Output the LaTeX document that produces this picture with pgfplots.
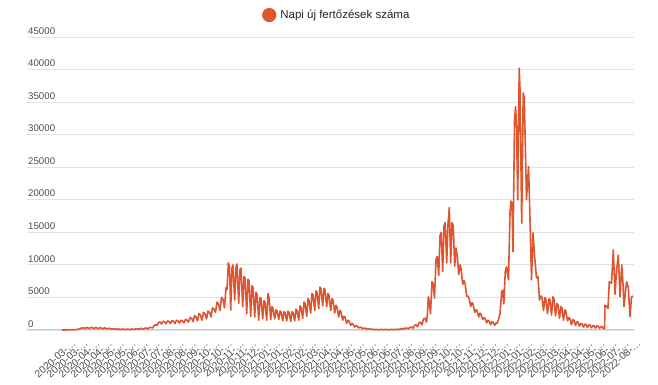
\documentclass[border=0pt]{standalone}
\usepackage{fontspec}
\setmainfont{Liberation Sans}
\usepackage{pgfplots}
\pgfplotsset{compat=1.18}
\definecolor{lineC}{HTML}{DE5530}
\definecolor{gridC}{HTML}{E3E3E3}
\definecolor{baseC}{HTML}{C6C6C6}
\definecolor{txtC}{HTML}{4D4D4D}
\definecolor{legC}{HTML}{222222}
\pgfplotstableread{
x y
62 0
65 5
68 10
71 20
74 40
77 80
79 150
80.5 250
82 300
83.5 350
85 220
86.5 400
88 320
89.5 230
91 420
92.5 330
94 220
95.5 400
97 300
98.5 200
100 380
101.5 280
103 180
104.5 330
106 250
107.5 170
109 280
110.5 200
112 120
113.5 210
115 160
116.5 90
118 170
119.5 130
121 70
122.5 150
124 120
125.5 60
127 140
128.5 110
130 60
131.5 150
133 130
134.5 80
136 190
137.5 170
139 110
140.5 240
142 220
143.5 140
145 300
146.5 280
148 180
149.5 380
151 400
152.5 300
154 650
155.5 800
157 700
158.5 1150
160 1250
161.5 900
163 1350
164.5 1250
166 950
167.5 1400
169 1300
170.5 1000
172 1450
173.5 1350
175 1000
176.5 1500
178 1400
179.5 1050
181 1500
182.5 1400
184 1100
185.5 1650
187 1500
188.5 1200
190 1900
191.5 1800
193 1300
194.5 2200
196 2000
197.5 1400
199 2500
200.5 2300
202 1500
203.5 2700
205 2500
206.5 1700
208 2900
209.5 2700
211 2000
212.5 3400
214 3200
215.5 2700
217 4300
218.5 4000
220 3000
221.5 5000
223 4700
224.5 3400
226 6500
227 6200
228.3 10300
229.5 9800
230.7 3070
232 9500
232.9 10000
234.7 4600
236 9600
236.9 10150
238.7 4100
240 9300
241 9500
242.7 3600
244 8200
245 8000
246.7 2500
248 7800
249 7600
250.7 2100
252 6800
253 6500
254.7 2000
256 5800
257 5500
258.7 1500
260 5000
261 4800
262.7 1700
264 4500
265 4300
266.7 1500
268 5600
269 5000
270.7 1600
272 3600
273 3300
274.7 1700
276 3100
277 3000
278.7 1600
280 2900
281 2800
282.7 1400
284 2800
285 2700
286.7 1400
288 2900
289 2700
290.7 1300
292 2800
293 2700
294.7 1400
296 3200
297 3000
298.7 1500
300 3700
301 3500
302.7 1800
304 4300
305 4100
306.7 2100
308 4800
309 4600
310.7 2600
312 5600
313 5400
314.7 3000
316 6000
317 5800
318.7 3300
320 6600
321 6300
322.7 3700
324 6400
325 6200
326.7 3600
328 5600
329 5300
330.7 3000
332 4800
333 4600
334.7 2600
336 3800
337 3500
338.7 2000
340 3000
341 2800
342.7 1500
344 2100
345 2000
346.7 1000
348 1500
349 1400
350.7 700
352 1000
353 900
354.7 450
356 650
357 600
358.7 300
360 450
361 400
362.7 200
364 300
365 280
366.7 150
368 200
369 180
370.7 90
372 120
373 110
374.7 60
376 90
377 80
378.7 40
380 70
382 80
383.5 40
385 70
387 80
388.5 40
390 80
392 90
393.5 50
395 100
397 110
398.5 60
400 160
402 200
403.5 120
405 270
407 300
408.5 180
410 400
411.5 450
413 250
414.5 700
416 800
417.5 500
419 1100
420.5 1200
422 800
423.5 1700
425 1800
426.5 1200
427.5 2600
428.3 5100
429.3 4400
430.5 2500
432 7400
433 7200
434.5 4900
436 10800
437.2 11300
438.7 8400
440 14500
441.2 15000
442.7 9000
444 16000
445.2 16500
446.7 10300
448 16300
449.3 18800
450.7 10300
452 16500
453.2 16000
454.7 9800
456 12600
457.2 11500
458.7 8500
460 10000
461 9500
462.7 7000
464 7600
465 7200
466.7 5200
468 5200
469 4900
470.7 3600
472 4200
473 4000
474.7 2700
476 3100
477 3000
478.7 2000
480 2600
481 2400
482.7 1600
484 1900
485 1800
486.7 1100
488 1500
489 1400
490.7 800
492 1300
493 1200
494.7 700
496 1100
497 1000
498.3 1500
500 2500
501.7 5900
502.7 6100
503.8 4000
505.3 9000
506.5 9700
507.7 8500
508.5 7700
510 18000
511 19800
512 19500
513 12000
514.5 32000
515.5 34300
516.5 31500
517.7 20000
519.2 40200
520 37000
521.7 16400
523.2 36400
524.2 35800
526.5 20000
528.5 25100
529.5 20000
531.5 7700
533 14900
534.5 11500
536.5 8000
538 8200
539.5 4600
541 5200
542 5000
543.5 3000
545 5000
546 4600
547.5 2500
549 4800
550 4600
551.5 2300
553 5100
554 4700
555.5 2200
557 4100
558 3800
559.5 1800
561 3600
562 3300
563.5 1500
565 3100
566 2800
567.5 1400
569 1900
570 1700
571.5 800
573 1600
574 1500
575.5 700
577 1300
578 1200
579.5 600
581 1000
582 950
583.5 450
585 900
586 850
587.5 400
589 800
590 750
591.5 350
593 700
594 650
595.5 300
597 650
598 600
599.5 250
601 550
602 500
603.5 200
604.5 250
605 3800
606.5 3700
608 3300
609.3 7400
611.5 7200
613.3 12300
615 5500
616.5 9000
618.3 11500
620 5100
621.7 10000
623 7000
624 3600
625.5 6000
626.7 7400
628.3 6500
630 2050
631.5 5100
633 5200
}\cases
\begin{document}
\begin{tikzpicture}
\useasboundingbox (0pt,0pt) rectangle (658pt,385pt);
\begin{axis}[
  at={(27pt,55pt)}, anchor=south west,
  width=607pt, height=293pt, scale only axis,
  xmin=27, xmax=634, ymin=0, ymax=45000,
  clip=false,
  scaled y ticks=false, scaled x ticks=false,
  axis line style={draw=none},
  tick style={draw=none},
  major tick length=0pt,
  ymajorgrids,
  major grid style={gridC, line width=0.9pt},
  ytick={0,5000,...,45000},
  yticklabels={0,5000,10000,15000,20000,25000,30000,35000,40000,45000},
  yticklabel style={anchor=south west, inner sep=1pt, yshift=1.5pt, font=\fontsize{9.7}{11}\selectfont, text=txtC},
  extra y ticks={0},
  extra y tick labels={},
  extra y tick style={major grid style={baseC, line width=1pt}},
  xtick={68,80.02,...,634},
  xticklabels={2020-03-…,2020-03-…,2020-04-…,2020-04-…,2020-05-…,2020-05-…,2020-06-…,2020-07-…,2020-07-…,2020-08-…,2020-08-…,2020-09-…,2020-10-…,2020-10-…,2020-11-…,2020-11-…,2020-12-…,2021-01-…,2021-01-…,2021-02-…,2021-02-…,2021-03-…,2021-04-…,2021-04-…,2021-05-…,2021-05-…,2021-06-…,2021-06-…,2021-07-…,2021-08-…,2021-09-…,2021-09-…,2021-10-…,2021-10-…,2021-11-…,2021-12-…,2021-12-…,2022-01-…,2022-01-…,2022-02-…,2022-03-…,2022-03-…,2022-04-…,2022-04-…,2022-05-…,2022-06-…,2022-07-…,2022-08-…},
  xticklabel style={rotate=42, anchor=north east, inner sep=1pt, xshift=-2pt, yshift=-8pt, font=\fontsize{10.2}{11}\selectfont, text=txtC},
  legend style={at={(0.512,1.075)}, anchor=center, draw=none, fill=none, font=\fontsize{11.5}{13}\selectfont, text=legC, nodes={inner xsep=4pt}},
  legend image code/.code={\fill[lineC] (6.3pt,0pt) circle (6.3pt);},
]
\addplot[lineC, line width=1.6pt, line join=round] table[x=x, y=y] {\cases};
\addlegendentry{Napi új fertőzések száma}
\end{axis}
\end{tikzpicture}
\end{document}
